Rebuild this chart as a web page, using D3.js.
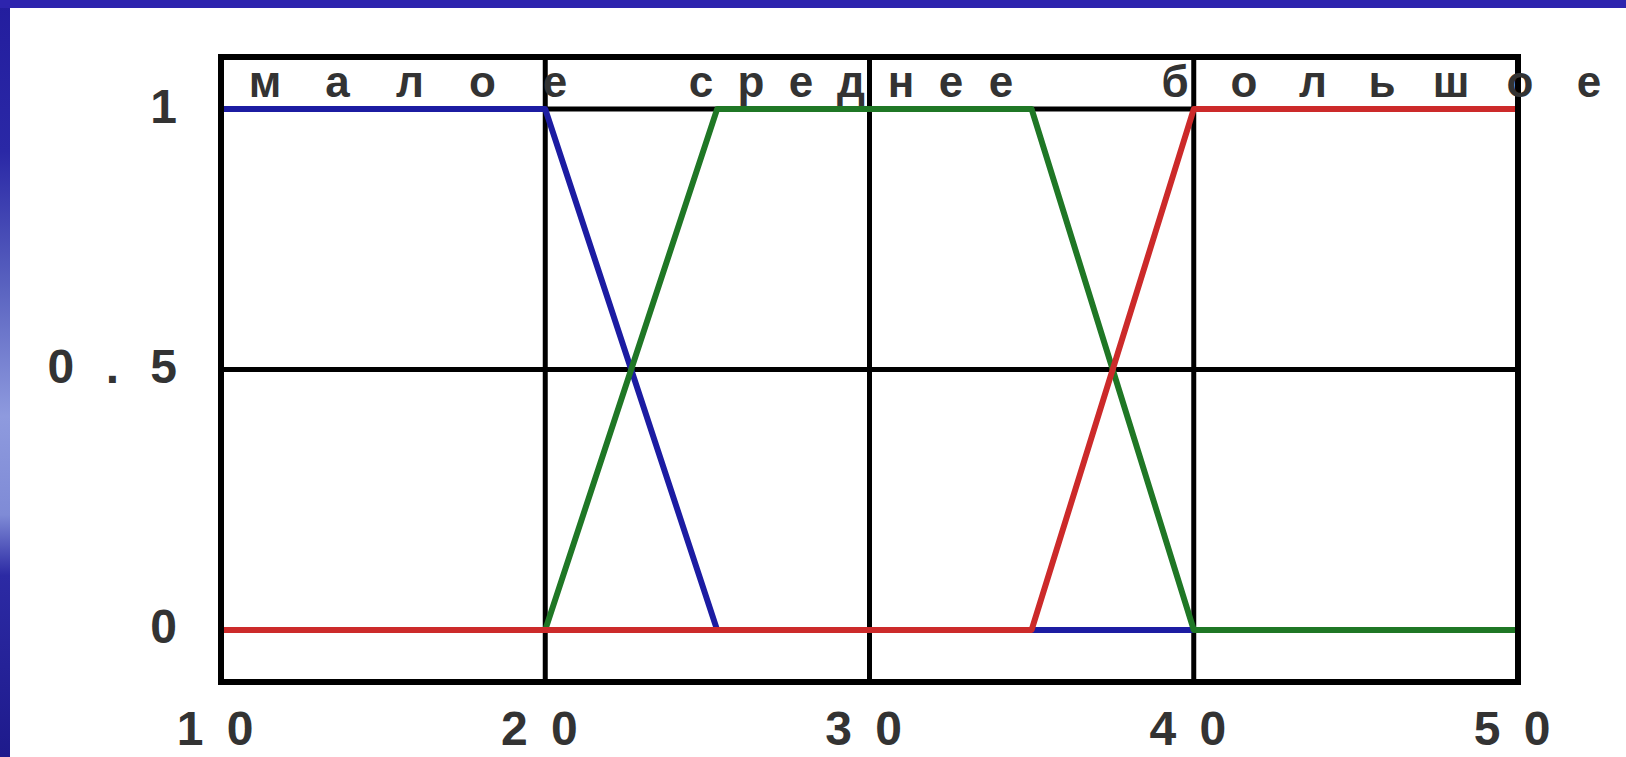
<!DOCTYPE html>
<html>
<head>
<meta charset="utf-8">
<script src="https://cdn.jsdelivr.net/npm/d3@7/dist/d3.min.js"></script>
<style>
  html, body { margin: 0; padding: 0; background: #ffffff; }
  svg { display: block; }
  text { font-family: "Liberation Sans", Arial, sans-serif; }
</style>
</head>
<body>
<svg id="chart" width="1626" height="757"></svg>
<script>
// Membership functions of the linguistic variable (x, μ)
const termNames = ["малое", "среднее", "большое"];
const maloe   = [[10, 1], [20, 1], [25.3, 0], [50, 0]];
const srednee = [[10, 0], [20, 0], [25.3, 1], [35, 1], [40, 0], [50, 0]];
const bolshoe = [[10, 0], [35, 0], [40, 1], [50, 1]];
const termColors = ["#1c1ca2", "#1f7725", "#cc2a2a"];

const xTicks = [10, 20, 30, 40, 50];
const yTicks = [0, 0.5, 1];
const yTickLabels = ["0", "0 . 5", "1"];

const W = 1626, H = 757;
const svg = d3.select("#chart");

// Slide background: white with blue gradient bars on top and left
const defs = svg.append("defs");
const lg = defs.append("linearGradient").attr("id", "sideGrad")
  .attr("x1", 0).attr("y1", 0).attr("x2", 0).attr("y2", 1);
[[0, "#231d9e"], [0.2, "#2a28a6"], [0.38, "#5a63c0"], [0.55, "#8e9ade"],
 [0.68, "#7f8bd6"], [0.76, "#2c2aa4"], [1, "#1e1a8c"]]
  .forEach(([o, c]) => lg.append("stop").attr("offset", o).attr("stop-color", c));

svg.append("rect").attr("width", W).attr("height", H).attr("fill", "#ffffff");
svg.append("rect").attr("x", 0).attr("y", 0).attr("width", 10).attr("height", H)
  .attr("fill", "url(#sideGrad)");
svg.append("rect").attr("x", 0).attr("y", 0).attr("width", W).attr("height", 8)
  .attr("fill", "#2d24ae");

// Scales
const x = d3.scaleLinear().domain([10, 50]).range([221, 1518]);
const y = d3.scaleLinear().domain([-0.1, 1.1]).range([682, 57]);

// Grid lines
const g = svg.append("g");
g.selectAll("line.vg").data(xTicks.slice(1, -1)).join("line")
  .attr("x1", d => x(d)).attr("x2", d => x(d))
  .attr("y1", y(-0.1)).attr("y2", y(1.1))
  .attr("stroke", "#000").attr("stroke-width", 5);
g.selectAll("line.hg").data(yTicks).join("line")
  .attr("x1", x(10)).attr("x2", x(50))
  .attr("y1", d => y(d)).attr("y2", d => y(d))
  .attr("stroke", "#000").attr("stroke-width", 5);

// Membership curves (blue, green, red drawn in that order)
const line = d3.line().x(d => x(d[0])).y(d => y(d[1]));
[maloe, srednee, bolshoe].forEach((pts, i) => {
  svg.append("path").attr("d", line(pts))
    .attr("fill", "none").attr("stroke", termColors[i])
    .attr("stroke-width", 6).attr("stroke-linejoin", "round");
});

// Frame
svg.append("rect")
  .attr("x", x(10)).attr("y", y(1.1))
  .attr("width", x(50) - x(10)).attr("height", y(-0.1) - y(1.1))
  .attr("fill", "none").attr("stroke", "#000").attr("stroke-width", 6);

// Term names, letters spread out along the top strip
const labelLayout = [
  { start: 265, pitch: 72.5 },
  { start: 701, pitch: 50 },
  { start: 1175, pitch: 69 }
];
termNames.forEach((name, i) => {
  const lay = labelLayout[i];
  svg.append("g").selectAll("text").data(Array.from(name)).join("text")
    .attr("x", (c, k) => lay.start + k * lay.pitch)
    .attr("y", 97)
    .attr("text-anchor", "middle")
    .attr("font-size", 44)
    .attr("font-weight", "bold")
    .attr("fill", "#333333")
    .text(c => c);
});

// Axes
const spaced = d => String(d).split("").join(" ");
const xAxis = svg.append("g")
  .attr("transform", `translate(0, ${y(-0.1)})`)
  .call(d3.axisBottom(x).tickValues(xTicks).tickSize(0).tickFormat(spaced));
xAxis.select(".domain").remove();
xAxis.selectAll("text")
  .attr("y", 0).attr("dy", 0)
  .attr("transform", "translate(-4, 63)")
  .attr("font-size", 48).attr("letter-spacing", 5)
  .attr("font-weight", "bold")
  .attr("fill", "#333333")
  .style("font-family", "'Liberation Sans', Arial, sans-serif");

const yAxis = svg.append("g")
  .attr("transform", "translate(186, 0)")
  .call(d3.axisLeft(y).tickValues(yTicks).tickSize(0)
    .tickFormat((d, i) => yTickLabels[i]));
yAxis.select(".domain").remove();
yAxis.selectAll("text")
  .attr("x", 0).attr("dy", 0)
  .attr("transform", "translate(0, 13)")
  .attr("text-anchor", "end")
  .attr("font-size", 48).attr("letter-spacing", 9)
  .attr("font-weight", "bold")
  .attr("fill", "#333333")
  .style("font-family", "'Liberation Sans', Arial, sans-serif");
</script>
</body>
</html>
